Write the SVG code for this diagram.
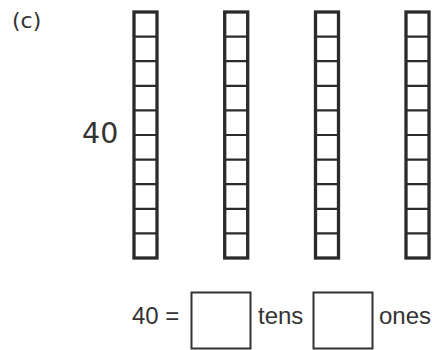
<svg xmlns="http://www.w3.org/2000/svg" width="432" height="350" viewBox="0 0 432 350">
<style>
.txt{font-family:"DejaVu Sans","Noto Sans",sans-serif;fill:#333}
.txt2{font-family:"Liberation Sans","Noto Sans",sans-serif;fill:#333}
.outer{fill:#fff;stroke:#2b2b2b;stroke-width:3.3}
.inner{stroke:#2b2b2b;stroke-width:2.2}
.box{fill:#fff;stroke:#333;stroke-width:2}
</style>
<defs>
<g id="rod">
<rect class="outer" x="134" y="12" width="23" height="246"/>
<path class="inner" d="M134 36.6H157M134 61.2H157M134 85.8H157M134 110.4H157M134 135H157M134 159.6H157M134 184.2H157M134 208.8H157M134 233.4H157"/>
</g>
</defs>
<rect width="432" height="350" fill="#fff"/>
<text class="txt" x="12" y="28" font-size="22">(c)</text>
<g id="col1"><use href="#rod"/></g>
<g id="col2"><use href="#rod" x="90.7"/></g>
<g id="col3"><use href="#rod" x="181.5"/></g>
<g id="col4"><use href="#rod" x="272"/></g>
<g id="label40"><text class="txt" x="82" y="143.3" font-size="28.5">40</text></g>
<g id="equation">
<text class="txt2" x="132" y="323.5" font-size="24">40 =</text>
<rect class="box" x="191.5" y="292.5" width="59" height="56"/>
<text class="txt2" x="258" y="323.5" font-size="24">tens</text>
<rect class="box" x="313.5" y="292.5" width="59" height="56"/>
<text class="txt2" x="379" y="323.5" font-size="24">ones</text>
</g>
</svg>
